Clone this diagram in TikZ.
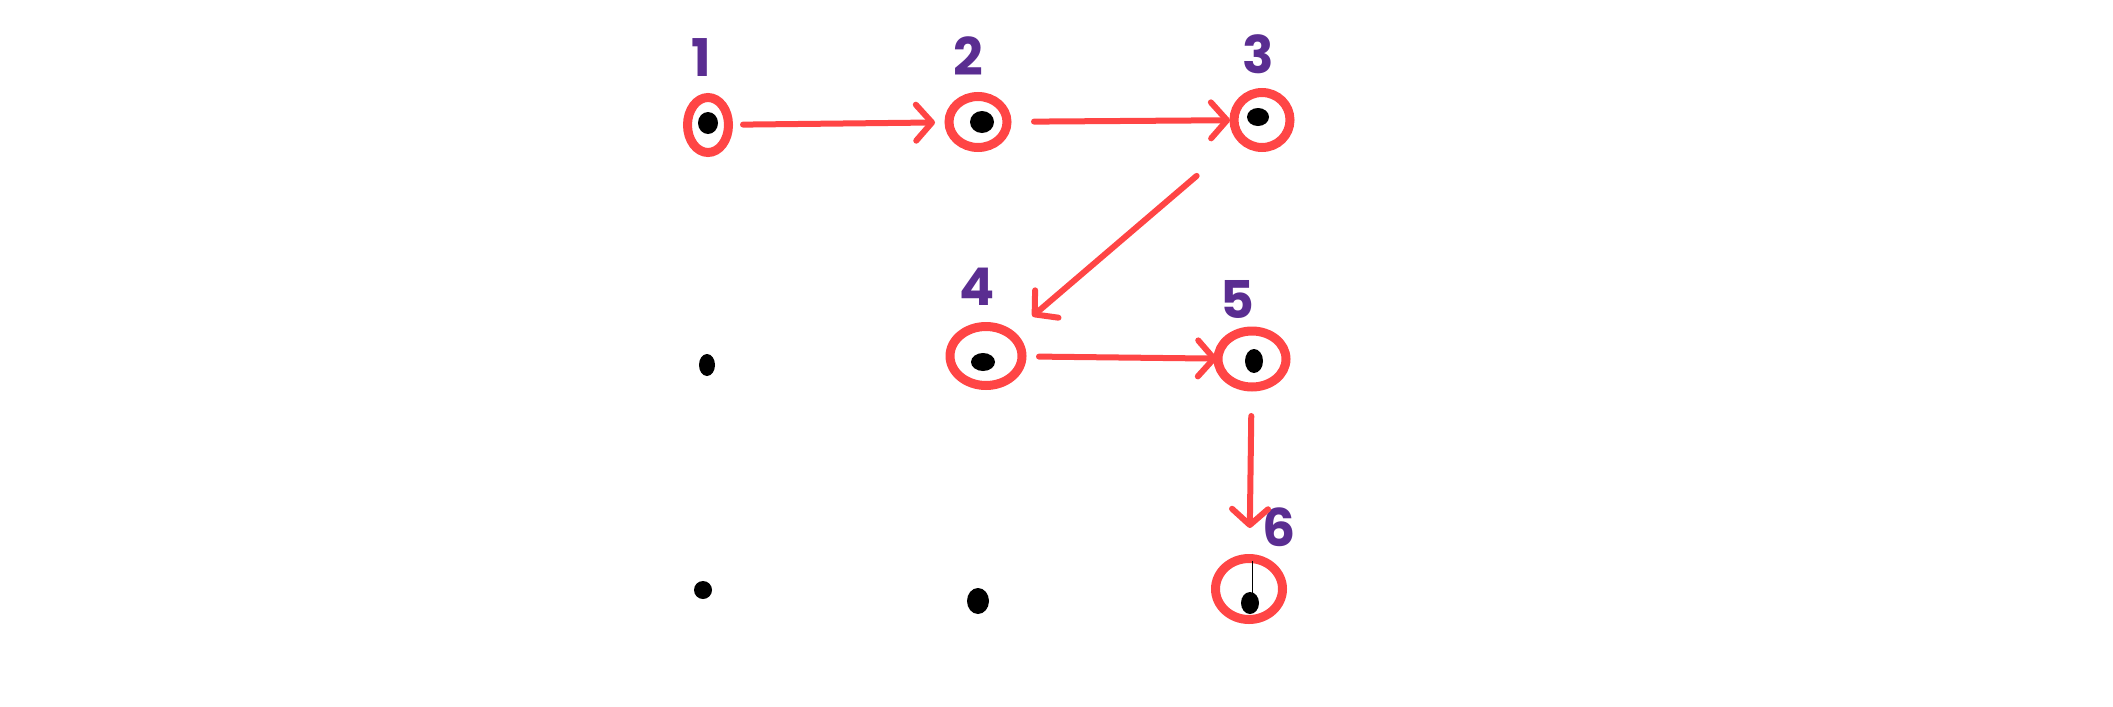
\documentclass[tikz,border=0pt]{standalone}
\usepackage{fontspec}
\newfontfamily\numfont{Poppins}
\usetikzlibrary{shapes.geometric,arrows.meta}
\definecolor{hred}{HTML}{FF4545}
\definecolor{hpurple}{HTML}{5A2D91}
\begin{document}
\begin{tikzpicture}[x=1pt,y=-1pt,
  circ/.style={ellipse, draw=hred, line width=9pt, inner sep=0pt},
  dotn/.style={ellipse, fill=black, inner sep=0pt, minimum width=20pt, minimum height=22pt},
  lbl/.style={text=hpurple, font=\numfont\bfseries\fontsize{52}{52}\selectfont, inner sep=0pt},
  arr/.style={draw=hred, line width=6pt, line cap=round,
    -{Straight Barb[length=16pt,width=36pt,round]}},
]
\useasboundingbox (0,0) rectangle (2113,707);
% circles
\node[circ, minimum width=41pt, minimum height=55pt] (n1) at (708,125) {};
\node[circ, minimum width=58pt, minimum height=51pt] (n2) at (978,122) {};
\node[circ, minimum width=56pt, minimum height=55pt] (n3) at (1262,120) {};
\node[circ, minimum width=72pt, minimum height=59pt] (n4) at (986,356) {};
\node[circ, minimum width=68pt, minimum height=56pt] (n5) at (1252,359) {};
\node[circ, minimum width=67pt, minimum height=61pt] (n6) at (1249,589) {};
% dots
\node[dotn] (d1) at (708,123) {};
\node[dotn, minimum width=24pt, minimum height=22pt] (d2) at (982,122) {};
\node[dotn, minimum width=22pt, minimum height=18pt] (d3) at (1258,117) {};
\node[dotn, minimum width=24pt, minimum height=18pt] (d4) at (983,362) {};
\node[dotn, minimum width=18pt, minimum height=24pt] (d5) at (1254,361) {};
\node[dotn, minimum width=18pt, minimum height=22pt] (d6) at (1250,603) {};
\node[dotn, minimum width=16pt, minimum height=22pt] (p1) at (707,365) {};
\node[dotn, minimum width=18pt, minimum height=18pt] (p2) at (703,590) {};
\node[dotn, minimum width=22pt, minimum height=26pt] (p3) at (978,601) {};
\draw[line width=1pt] ([xshift=2pt]d6.center) -- ++(0,-42);
% labels
\node[lbl] (l1) at (701,58) {1};
\node[lbl] (l2) at (968,56) {2};
\node[lbl] (l3) at (1258,54) {3};
\node[lbl] (l4) at (977,287) {4};
\node[lbl] (l5) at (1237,299) {5};
\node[lbl] (l6) at (1279,527) {6};
% arrows
\draw[arr, shorten <=35pt, shorten >=43pt] (n1.center) -- (n2.center);
\draw[arr, shorten <=56pt, shorten >=32pt] (n2.center) -- (n3.center);
\draw[arr, shorten <=86pt, shorten >=61pt] (n3.center) -- (n4.center);
\draw[arr, shorten <=53pt, shorten >=35pt] (n4.center) -- (n5.center);
\draw[arr, shorten <=57pt, shorten >=61pt] (n5.center) -- (n6.center);
\end{tikzpicture}
\end{document}
